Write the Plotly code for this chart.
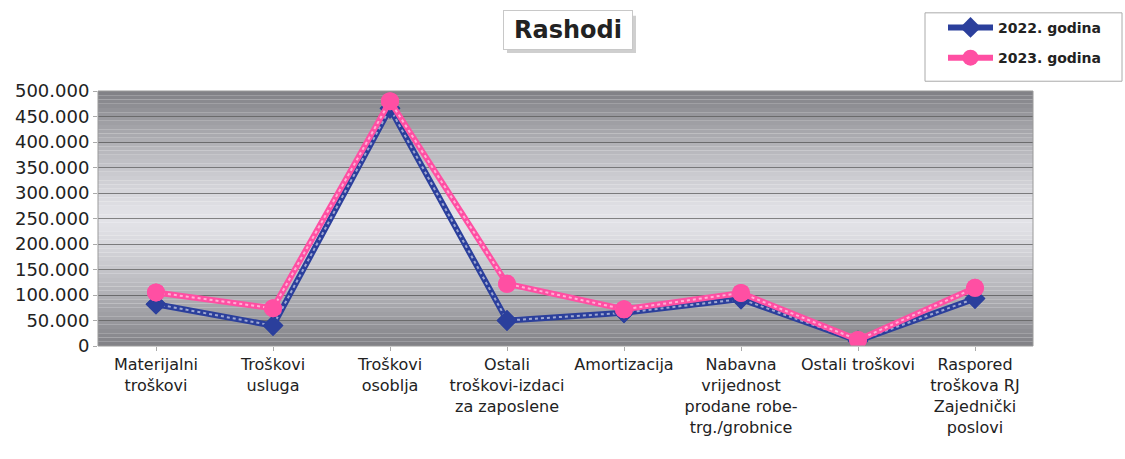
import plotly.graph_objects as go

categories = [
    "Materijalni<br>troškovi",
    "Troškovi<br>usluga",
    "Troškovi<br>osoblja",
    "Ostali<br>troškovi-izdaci<br>za zaposlene",
    "Amortizacija",
    "Nabavna<br>vrijednost<br>prodane robe-<br>trg./grobnice",
    "Ostali troškovi",
    "Raspored<br>troškova RJ<br>Zajednički<br>poslovi",
]
y2022 = [82000, 40000, 466000, 50000, 65000, 92000, 10000, 93000]
y2023 = [105000, 74000, 480000, 122000, 72000, 104000, 12000, 114000]
tick_vals = [0, 50000, 100000, 150000, 200000, 250000, 300000, 350000, 400000, 450000, 500000]
tick_text = ["0", "50.000", "100.000", "150.000", "200.000", "250.000", "300.000",
             "350.000", "400.000", "450.000", "500.000"]

BLUE = "#2b3f9c"
PINK = "#ff4fa3"
FONT = "DejaVu Sans, Liberation Sans, Arial, sans-serif"

fig = go.Figure()

for name, vals, color, sym, size in [
    ("2022. godina", y2022, BLUE, "diamond", 16),
    ("2023. godina", y2023, PINK, "circle", 18),
]:
    fig.add_trace(go.Scatter(
        x=categories, y=vals, name=name, mode="lines+markers", legendgroup=name,
        line=dict(color=color, width=6),
        marker=dict(symbol=sym, size=size, color=color),
    ))
    fig.add_trace(go.Scatter(
        x=categories, y=vals, mode="lines", showlegend=False, hoverinfo="skip",
        line=dict(color="rgba(255,255,255,0.55)", width=2, dash="dot"),
    ))
    fig.add_trace(go.Scatter(
        x=categories, y=vals, mode="markers", showlegend=False, hoverinfo="skip",
        marker=dict(symbol=sym, size=size, color=color),
    ))

# gradient background bands (dark top/bottom, light middle)
n = 60
shapes = []
for i in range(n):
    t = (i + 0.5) / n  # 0 bottom -> 1 top
    d = abs(t - 0.5) / 0.5
    v = int(228 - 100 * d ** 1.3)
    v = max(110, min(235, v))
    shapes.append(dict(type="rect", xref="x domain", yref="y domain",
                       x0=0, x1=1, y0=i / n, y1=(i + 1) / n,
                       fillcolor=f"rgb({v},{v},{min(255, v + 5)})",
                       line=dict(width=0), layer="below"))
shapes.append(dict(type="rect", xref="x domain", yref="y domain", x0=0, x1=1, y0=0, y1=1,
                   line=dict(color="#9a9a9a", width=1), fillcolor="rgba(0,0,0,0)"))

# plot area: x 98..1033, y 85..346 px
def px_x(p):
    return (p - 98) / 935.0

def px_y(p):
    return (346 - p) / 261.0

# title box shadow
shapes.append(dict(type="rect", xref="paper", yref="paper",
                   x0=px_x(507), x1=px_x(636), y0=px_y(46), y1=px_y(8),
                   fillcolor="#cfcfcf", line=dict(width=0), layer="above"))
# legend box
shapes.append(dict(type="rect", xref="paper", yref="paper",
                   x0=px_x(925), x1=px_x(1122), y0=px_y(75), y1=px_y(5),
                   fillcolor="white", line=dict(color="#aaa", width=1), layer="above"))

fig.update_layout(
    width=1125, height=459,
    margin=dict(l=98, r=92, t=85, b=113),
    paper_bgcolor="white", plot_bgcolor="rgba(0,0,0,0)",
    font=dict(family=FONT, color="#222"),
    shapes=shapes,
    showlegend=True,
    legend=dict(x=px_x(943), y=px_y(4), xanchor="left", yanchor="top",
                borderwidth=0, bgcolor="rgba(0,0,0,0)",
                font=dict(size=14, color="#222", family=FONT, weight="bold"),
                itemwidth=45, tracegroupgap=9),
    annotations=[dict(text="<b>Rashodi</b>", xref="paper", yref="paper",
                      x=px_x(567.5), y=px_y(23), xanchor="center", yanchor="middle",
                      showarrow=False, font=dict(size=24, color="#222", family=FONT),
                      bordercolor="#c8c8c8", borderwidth=1, borderpad=4,
                      width=120, height=30, bgcolor="white")],
)
fig.update_xaxes(tickfont=dict(size=16, color="#222", family=FONT), showgrid=False,
                 ticks="outside", ticklen=4, tickcolor="#aaa", showline=False,
                 automargin=False)
fig.update_yaxes(range=[0, 500000], tickvals=tick_vals, ticktext=tick_text,
                 tickfont=dict(size=18, color="#222", family=FONT), showgrid=True,
                 gridcolor="rgba(60,60,60,0.6)", gridwidth=1, zeroline=False,
                 ticks="outside", ticklen=4, tickcolor="#aaa", automargin=False)

fig.write_html("out.html", config={"displayModeBar": False},
               post_script="document.body.style.margin='0';document.body.style.overflow='hidden';")
